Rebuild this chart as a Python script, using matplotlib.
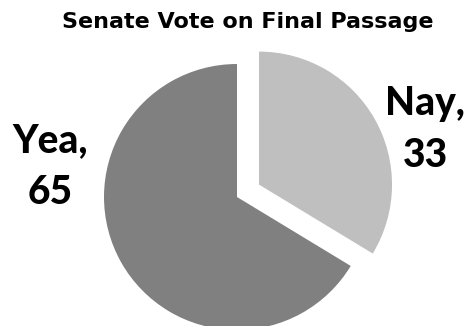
import matplotlib
matplotlib.use("Agg")
import matplotlib.pyplot as plt

title = "Senate Vote on Final Passage"
categories = ["Nay", "Yea"]
values = [33, 65]
colors = ["#bfbfbf", "#808080"]
explode = [0.19, 0.0]

plt.rcParams['font.family'] = ['Lato', 'DejaVu Sans']

fig = plt.figure(figsize=(4.71, 3.26), dpi=100)
ax = fig.add_axes([0, 0, 1, 1])
ax.pie(values, colors=colors, explode=explode, startangle=90, counterclock=False,
       radius=1.0, wedgeprops=dict(linewidth=0))
ax.set_xlim(-237/133, (471-237)/133)
ax.set_ylim(-129/133, 197/133)
ax.set_aspect('auto')
ax.axis('off')

label_pos = {"Yea": (-1.405, 0.23), "Nay": (1.415, 0.51)}
for c, v in zip(categories, values):
    x, y = label_pos[c]
    ax.text(x, y, f"{c},\n{v}", ha='center', va='center', fontsize=28,
            fontweight='black', linespacing=1.5, color='black')

fig.text(0.526, 0.932, title, ha='center', va='center', fontsize=16,
         fontweight='bold', color='black', family='DejaVu Sans')

fig.savefig("out.png", dpi=100)
